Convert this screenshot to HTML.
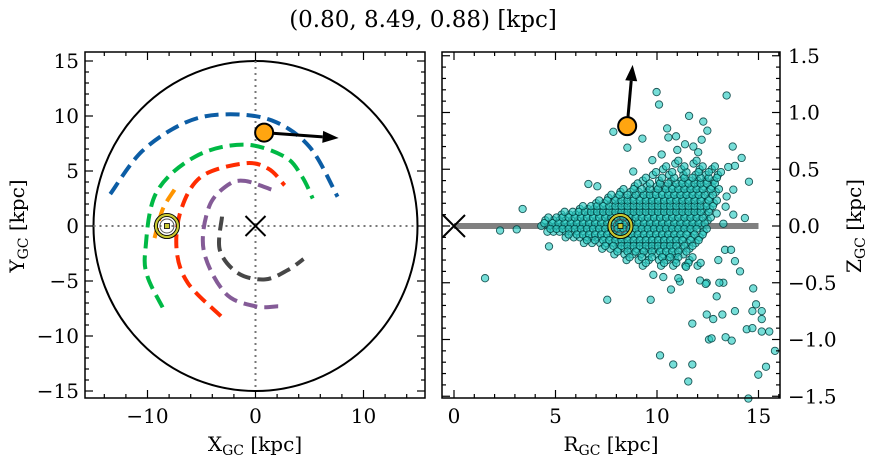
<!DOCTYPE html>
<html><head><meta charset="utf-8"><style>
html,body{margin:0;padding:0;background:#fff;}
svg{display:block;font-family:"DejaVu Serif","Liberation Serif",serif;}
</style></head><body>
<svg id="fig" width="874" height="464" viewBox="0 0 874 464" xmlns="http://www.w3.org/2000/svg">
<rect width="874" height="464" fill="#fff"/>
<text x="423" y="27" font-size="23" text-anchor="middle">(0.80, 8.49, 0.88) [kpc]</text>
<g id="left"></g>
<g id="right"></g>
</svg>
<script>
// ---------- data ----------
const blueOrbit = [[-13.45,2.9],[-10.5,6.8],[-6.5,9.4],[-2.8,10.15],[1.5,9.6],[5,7.2],[7.6,2.66]];
const greenOrbit = [[-8.6,-7.4],[-10.0,-4.6],[-10.2,-2.2],[-9.2,3.0],[-5.6,6.3],[-1.1,7.4],[2.7,6.3],[4.3,4.5],[5.3,2.5]];
const redOrbit = [[-3.2,-8.2],[-6.25,-5.2],[-7.3,-2.2],[-6.9,1.45],[-5.0,4.5],[-1.0,5.7],[1.2,5.2],[2.7,3.7]];
const purpleOrbit = [[2.1,-7.3],[0,-7.3],[-2.8,-6.1],[-4.8,-2.2],[-4.3,1.75],[-2.6,3.7],[-1.0,4.1],[1.5,3.3]];
const greyOrbit = [[-3.1,0.85],[-3.3,-2.2],[-1.6,-4.3],[0.9,-4.85],[3.0,-4.0],[4.45,-3.0]];
const orangeOrbit = [[-7.5,3.3],[-8.6,1.5],[-9.35,-1.1]];
const starXY = [0.8, 8.49];
const starVelXY = [7.7, 8.0];
const sunXY = [-8.2, 0];
const starRZ = [8.53, 0.88];
const starVelRZ = [8.8, 1.42];
const sunRZ = [8.2, 0];
const outlierR = [9.98,10.1,13.43,11.58,12.28,7.85,10.5,10.56,10.94,12.48,12.2,13.73,9.28,8.54,11.38,11.79,10.23,11.0,12.03,14.17,9.77,14.53,6.62,7.06,3.38,2.27,3.09,1.53,4.68,7.55,9.69,14.33,14.74,13.84,14.09,12.94,12.12,12.45,13.27,13.84,14.88,14.7,15.16,15.16,12.45,13.22,12.77,11.74,14.42,14.7,15.16,15.53,12.56,12.69,13.38,13.68,15.81,10.15,10.8,11.74,11.54,15.37,14.99,14.5,11.13,11.05,10.69,10.31,9.82,11.43,12.4,13.07,13.02,13.35,13.65,13.76,12.94,13.27,13.38,13.43,13.76,13.84,13.51,8.83];
const outlierZ = [1.18,1.07,1.15,0.97,0.92,0.83,0.86,0.78,0.79,0.84,0.76,0.70,0.77,0.69,0.72,0.70,0.63,0.67,0.65,0.60,0.58,0.39,0.37,0.35,0.15,-0.04,-0.03,-0.46,-0.18,-0.65,-0.65,0.07,-0.55,-0.31,-0.40,-0.62,-0.48,-0.50,-0.50,-0.75,-0.69,-0.75,-0.75,-0.82,-0.78,-0.78,-0.82,-0.86,-0.91,-0.90,-0.93,-0.93,-1.0,-0.99,-0.98,-1.01,-1.10,-1.14,-1.22,-1.22,-1.37,-1.24,-1.31,-1.52,-0.49,-0.46,-0.56,-0.45,-0.43,-0.36,-0.51,-0.50,-0.30,-0.21,-0.21,0.10,0.11,0.02,0.17,0.26,0.32,0.53,0.52,0.48];
const coreZ = [0.00,0.05,-0.05,0.10,-0.10,0.15,-0.15,0.20,-0.20,0.25,-0.25,0.30,-0.30,0.35,-0.35,0.40,0.45,0.50,0.55];
const coreR = [
 [4.3,4.7,5.0,5.3,5.6,5.9,6.2,6.5,6.8,7.1,7.4,7.7,8.0,8.3,8.6,8.9,9.2,9.5,9.8,10.1,10.4,10.7,11.0,11.3,11.6,11.9,12.2],
 [4.5,4.9,5.2,5.5,5.8,6.1,6.4,6.7,7.0,7.3,7.6,7.9,8.2,8.5,8.8,9.1,9.4,9.7,10.0,10.3,10.6,10.9,11.2,11.5,11.8,12.1,12.5],
 [4.6,4.9,5.2,5.5,5.8,6.1,6.4,6.7,7.0,7.3,7.6,7.9,8.2,8.5,8.8,9.1,9.4,9.7,10.0,10.3,10.6,10.9,11.2,11.5,11.8,12.3],
 [5.3,5.7,6.0,6.3,6.6,6.9,7.2,7.5,7.8,8.1,8.4,8.7,9.0,9.3,9.6,9.9,10.2,10.5,10.8,11.1,11.4,11.7,12.0,12.4],
 [5.5,5.9,6.2,6.5,6.8,7.1,7.4,7.7,8.0,8.3,8.6,8.9,9.2,9.5,9.8,10.1,10.4,10.7,11.0,11.3,11.7,12.1],
 [6.2,6.6,6.9,7.2,7.5,7.8,8.1,8.4,8.7,9.0,9.3,9.6,9.9,10.2,10.5,10.8,11.1,11.4,11.7,12.0,12.3,12.6],
 [6.4,6.8,7.2,7.5,7.8,8.1,8.4,8.7,9.0,9.3,9.6,9.9,10.2,10.5,10.8,11.1,11.5,11.9],
 [7.0,7.4,7.8,8.1,8.4,8.7,9.0,9.3,9.6,9.9,10.2,10.5,10.8,11.1,11.4,11.7,12.0,12.4,12.8],
 [7.3,7.7,8.1,8.4,8.7,9.0,9.3,9.6,9.9,10.2,10.5,10.8,11.2,11.6],
 [7.6,8.0,8.4,8.8,9.2,9.5,9.8,10.1,10.4,10.7,11.0,11.3,11.6,11.9,12.2,12.6],
 [7.9,8.4,8.8,9.2,9.6,10.0,10.3,10.6,10.9,11.3],
 [8.2,8.7,9.1,9.5,9.9,10.3,10.6,10.9,11.2,11.5,11.8,12.1,12.5,12.9],
 [8.5,9.1,9.6,10.1,10.5,10.9,11.6],
 [8.9,9.5,10.0,10.4,10.8,11.1,11.4,11.7,12.0,12.3,12.7],
 [9.3,10.2,10.8,11.4,12.0],
 [9.3,10.1,10.7,11.2,11.6,12.0,12.4,12.8],
 [9.8,10.6,11.3,11.9,12.4,13.0],
 [10.3,11.2,12.1,12.7],
 [10.9,11.8]
];
const leftXTicks = [-10,0,10];
const leftYTicks = [-15,-10,-5,0,5,10,15];
const rightXTicks = [0,5,10,15];
const rightYTicks = [-1.5,-1.0,-0.5,0.0,0.5,1.0,1.5];

// ---------- axes ----------
const NS = "http://www.w3.org/2000/svg";
const L = {x0:85,x1:425,y0:52,y1:398};
const R = {x0:442,x1:780,y0:52,y1:398};
const lx = v => 255.5 + 10.8*v;
const ly = v => 226 - 11.0*v;
const rx = v => 454 + 20.3*v;
const ry = v => 226 - 113.5*v;
function el(parent, tag, attrs){
  const e = document.createElementNS(NS, tag);
  for (const k in attrs) e.setAttribute(k, attrs[k]);
  parent.appendChild(e); return e;
}
function smooth(pts){
  let d = `M${pts[0][0]},${pts[0][1]}`;
  for (let i=0;i<pts.length-1;i++){
    const p0=pts[Math.max(i-1,0)],p1=pts[i],p2=pts[i+1],p3=pts[Math.min(i+2,pts.length-1)];
    const c1=[p1[0]+(p2[0]-p0[0])/6,p1[1]+(p2[1]-p0[1])/6];
    const c2=[p2[0]-(p3[0]-p1[0])/6,p2[1]-(p3[1]-p1[1])/6];
    d+=` C${c1[0]},${c1[1]} ${c2[0]},${c2[1]} ${p2[0]},${p2[1]}`;
  }
  return d;
}
const fmt = v => (v<0?"\u2212":"")+Math.abs(v);
const fmt1 = v => (v<0?"\u2212":"")+Math.abs(v).toFixed(1);

const left = document.getElementById('left');
const right = document.getElementById('right');

const circ = el(left,'ellipse',{cx:lx(0),cy:ly(0),rx:15*10.8,ry:15*11.0,fill:'none',stroke:'#000','stroke-width':2});


const dv = el(left,'line',{x1:lx(0),x2:lx(0),y1:ly(15),y2:ly(-15),stroke:'#777','stroke-width':2,'stroke-dasharray':'2,4'});


const dh = el(left,'line',{x1:lx(-15),x2:lx(15),y1:ly(0),y2:ly(0),stroke:'#777','stroke-width':2,'stroke-dasharray':'2,4'});



const orbits = [[blueOrbit,'#0C5DA5','orbit-blue'],[greenOrbit,'#00B945','orbit-green'],[redOrbit,'#FF2C00','orbit-red'],[purpleOrbit,'#845B97','orbit-purple'],[greyOrbit,'#474747','orbit-grey'],[orangeOrbit,'#FF9500','orbit-orange']];
orbits.forEach(([pts,c,n])=>{
  const p = el(left,'path',{d:smooth(pts.map(q=>[lx(q[0]),ly(q[1])])),fill:'none',stroke:c,'stroke-width':4,'stroke-dasharray':'14,7'});
  
  
});
function xmark(g,cx,cy,s,name){
  const gg = el(g,'path',{d:`M${cx-s},${cy-s}L${cx+s},${cy+s}M${cx-s},${cy+s}L${cx+s},${cy-s}`,stroke:'#000','stroke-width':2,fill:'none'});
  
  
}
xmark(left,lx(0),ly(0),10,'galactic-center-marker');
function sun(g,cx,cy){
  const s = el(g,'g',{});
  
  
  el(s,'circle',{cx,cy,r:11,fill:'none',stroke:'#000','stroke-width':4});
  el(s,'circle',{cx,cy,r:11,fill:'none',stroke:'#c8c832','stroke-width':2.2});
  el(s,'circle',{cx,cy,r:7,fill:'none',stroke:'#555','stroke-width':1});
  el(s,'rect',{x:cx-2.5,y:cy-2.5,width:5,height:5,fill:'#c8c832',stroke:'#000','stroke-width':0.8});
}
function arrow(g,x1,y1,x2,y2,name){
  const a = el(g,'g',{});
  
  
  const ang = Math.atan2(y2-y1,x2-x1), hl=16, hw=6;
  const bx=x2-hl*Math.cos(ang), by=y2-hl*Math.sin(ang);
  el(a,'line',{x1,y1,x2:bx,y2:by,stroke:'#000','stroke-width':3});
  el(a,'polygon',{points:`${x2},${y2} ${bx-hw*Math.sin(ang)},${by+hw*Math.cos(ang)} ${bx+hw*Math.sin(ang)},${by-hw*Math.cos(ang)}`,fill:'#000'});
}
arrow(left,lx(starXY[0]),ly(starXY[1]),lx(starVelXY[0]),ly(starVelXY[1]),'velocity-arrow-xy');
const st1 = el(left,'circle',{cx:lx(starXY[0]),cy:ly(starXY[1]),r:9,fill:'#FFA510',stroke:'#000','stroke-width':2});


sun(left,lx(sunXY[0]),ly(sunXY[1]));

const gl = el(right,'line',{x1:rx(0),x2:rx(15),y1:ry(0),y2:ry(0),stroke:'#808080','stroke-width':6});


const sc = el(right,'g',{});


function dot(Rv,Zv){
  const c = el(sc,'circle',{cx:rx(Rv),cy:ry(Zv),r:3.7,fill:'rgba(45,205,195,0.65)',stroke:'rgba(0,60,60,0.85)','stroke-width':0.9});
  
  
}
coreR.forEach((row,i)=>row.forEach(Rv=>dot(Rv,coreZ[i])));
coreR.forEach((row,i)=>row.forEach(Rv=>dot(Rv+0.15,coreZ[i]+0.025)));
outlierR.forEach((Rv,i)=>dot(Rv,outlierZ[i]));
xmark(right,rx(0),ry(0),11,'galactic-center-marker-rz');
arrow(right,rx(starRZ[0]),ry(starRZ[1]),rx(starVelRZ[0]),ry(starVelRZ[1]),'velocity-arrow-rz');
const st2 = el(right,'circle',{cx:rx(starRZ[0]),cy:ry(starRZ[1]),r:9,fill:'#FFA510',stroke:'#000','stroke-width':2});


sun(right,rx(sunRZ[0]),ry(sunRZ[1]));

function frame(g,B,name){
  const f = el(g,'rect',{x:B.x0,y:B.y0,width:B.x1-B.x0,height:B.y1-B.y0,fill:'none',stroke:'#000','stroke-width':1.5});
  
  
}
function tick(g,x1,y1,x2,y2){ el(g,'line',{x1,y1,x2,y2,stroke:'#000','stroke-width':1.2}); }
function xt(g,B,px,len){ tick(g,px,B.y1,px,B.y1-len); tick(g,px,B.y0,px,B.y0+len); }
function yt(g,B,py,len){ tick(g,B.x0,py,B.x0+len,py); tick(g,B.x1,py,B.x1-len,py); }
frame(left,L,'left-axes-frame');
frame(right,R,'right-axes-frame');
for(let v=-14;v<=14;v+=2){ if(!leftXTicks.includes(v)) xt(left,L,lx(v),4); }
for(let v=-15;v<=15;v+=1){ if(!leftYTicks.includes(v)) yt(left,L,ly(v),4); }
leftXTicks.forEach(v=>{ xt(left,L,lx(v),8);
  const t=el(left,'text',{x:lx(v),y:423,'font-size':20,'text-anchor':'middle'}); t.textContent=fmt(v);
    });
leftYTicks.forEach(v=>{ yt(left,L,ly(v),8);
  const t=el(left,'text',{x:79,y:ly(v)+7,'font-size':20,'text-anchor':'end'}); t.textContent=fmt(v);
    });
for(let v=0;v<=16;v+=1){ if(!rightXTicks.includes(v)) xt(right,R,rx(v),4); }
for(let k=-15;k<=15;k++){ if(k%5!==0) yt(right,R,ry(k/10),4); }
rightXTicks.forEach(v=>{ xt(right,R,rx(v),8);
  const t=el(right,'text',{x:rx(v),y:423,'font-size':20,'text-anchor':'middle'}); t.textContent=fmt(v);
    });
rightYTicks.forEach(v=>{ yt(right,R,ry(v),8);
  const t=el(right,'text',{x:788,y:ry(v)+7,'font-size':20,'text-anchor':'start'}); t.textContent=fmt1(v);
    });
</script>
<svg style="position:absolute;left:0;top:0" width="874" height="464" xmlns="http://www.w3.org/2000/svg" font-family="DejaVu Serif, Liberation Serif, serif">
<text x="255" y="451" font-size="20" text-anchor="middle">X<tspan font-size="14" dy="4">GC</tspan><tspan dy="-4"> [kpc]</tspan></text>
<text transform="translate(24,226) rotate(-90)" font-size="20" text-anchor="middle">Y<tspan font-size="14" dy="4">GC</tspan><tspan dy="-4"> [kpc]</tspan></text>
<text x="611" y="451" font-size="20" text-anchor="middle">R<tspan font-size="14" dy="4">GC</tspan><tspan dy="-4"> [kpc]</tspan></text>
<text transform="translate(861,226) rotate(-90)" font-size="20" text-anchor="middle">Z<tspan font-size="14" dy="4">GC</tspan><tspan dy="-4"> [kpc]</tspan></text>
</svg>
</body></html>
